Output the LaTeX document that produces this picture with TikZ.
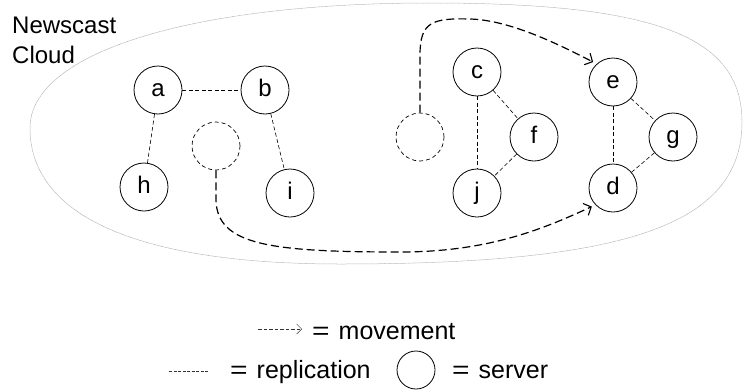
\documentclass[tikz,border=0pt]{standalone}
\usepackage{fontspec}
\setmainfont{Liberation Sans}
\usetikzlibrary{arrows.meta}
\newcommand{\eqsign}{\scalebox{1.2}[1]{=}\hspace{9pt}}
\begin{document}
\begin{tikzpicture}[x=1pt,y=-1pt,
  txt/.style={inner sep=0pt,font=\fontsize{24}{30}\selectfont},
  legtxt/.style={inner sep=0pt,font=\fontsize{25}{30}\selectfont},
  server/.style={circle,draw,line width=0.8pt,minimum size=48pt,inner sep=0pt,
    font=\fontsize{24}{30}\selectfont,text height=17pt,text depth=5pt},
  ghost/.style={circle,draw,line width=0.7pt,dash pattern=on 4pt off 3pt,minimum size=48pt,inner sep=0pt},
  repl/.style={draw,line width=0.6pt,dash pattern=on 4pt off 2.5pt},
  move/.style={draw,line width=1.2pt,dash pattern=on 8pt off 4pt,
    -{Straight Barb[length=6pt,width=13pt,line width=1.1pt]},shorten >=4pt},
  cloud/.style={draw=gray!70,line width=0.5pt,dash pattern=on 0.7pt off 0.5pt},
  legmove/.style={draw=black!80,line width=0.5pt,dash pattern=on 3.5pt off 2pt,
    -{Straight Barb[length=5pt,width=10pt,line width=0.5pt]}},
  legrepl/.style={draw=black!80,line width=0.5pt,dash pattern=on 3pt off 1.5pt},
]
\useasboundingbox (0,0) rectangle (743,391);

% cloud outline
\draw[cloud] (30,128) .. controls (30,53) and (190,3) .. (430,3)
  .. controls (655,3) and (742,36) .. (742,122)
  .. controls (742,224) and (629,264) .. (340,264)
  .. controls (138,264) and (30,216) .. cycle;

\node[txt,anchor=base west] (t1) at (12,33) {Newscast};
\node[txt,anchor=base west] (t2) at (12,63) {Cloud};

% servers
\node[server] (a) at (158,90) {a};
\node[server] (b) at (265,90) {b};
\node[server] (h) at (144,187) {h};
\node[server] (i) at (290,193) {i};
\node[ghost]  (g1) at (216,146) {};
\node[ghost]  (g2) at (420,137) {};
\node[server] (c) at (477,72) {c};
\node[server] (f) at (534,137) {f};
\node[server] (j) at (477,193) {j};
\node[server] (e) at (613,82) {e};
\node[server] (g) at (673,137) {g};
\node[server] (d) at (613,188) {d};

% replication links
\draw[repl] (a) -- (b);
\draw[repl] (a) -- (h);
\draw[repl] (b) -- (i);
\draw[repl] (c) -- (j);
\draw[repl] (c) -- (f);
\draw[repl] (f) -- (j);
\draw[repl] (e) -- (d);
\draw[repl] (e) -- (g);
\draw[repl] (g) -- (d);

% movements
\draw[move] (g1.south) -- (216,200) .. controls (217,245) and (270,252) .. (400,252)
  .. controls (490,252) and (545,228) .. (d.224);
\draw[move] (g2.north) -- (420,55) .. controls (420,22) and (432,18) .. (470,19)
  .. controls (510,20) and (560,45) .. (e.132);

% legend
\coordinate (la1) at (258,329);
\coordinate (la2) at (302,329);
\draw[legmove] (la1) -- (la2);
\node[legtxt,anchor=base west] (lmove) at (312,339) {\eqsign movement};
\coordinate (lr1) at (169,371);
\coordinate (lr2) at (208,371);
\draw[legrepl] (lr1) -- (lr2);
\node[legtxt,anchor=base west] (lrepl) at (230,378) {\eqsign replication};
\node[circle,draw,line width=0.8pt,minimum size=38pt,inner sep=0pt] (lsrv) at (416,370) {};
\node[legtxt,anchor=base west] (lserv) at (452,378) {\eqsign server};
\end{tikzpicture}
\end{document}
